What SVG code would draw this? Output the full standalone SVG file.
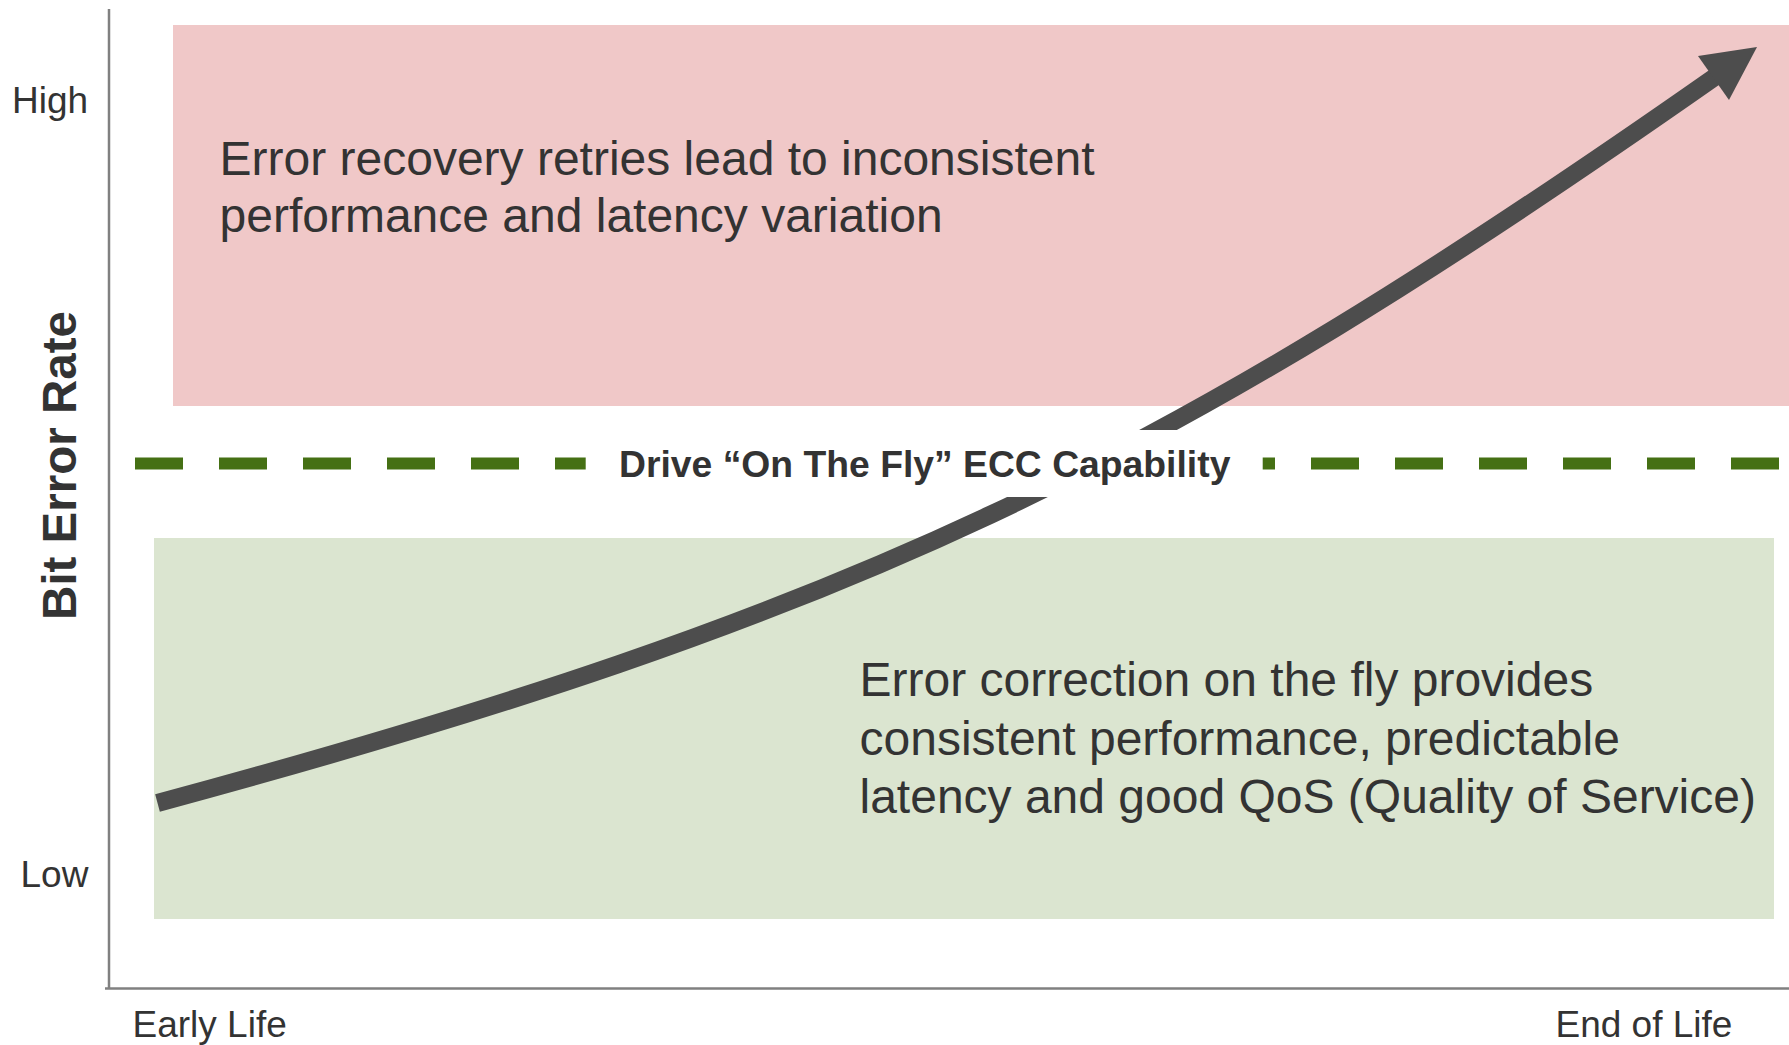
<svg xmlns="http://www.w3.org/2000/svg" width="1789" height="1045" viewBox="0 0 1789 1045">
  <style>
    .lbl { font-family: "Liberation Sans", Arial, sans-serif; fill: #333333; }
    .axis { stroke: #808080; stroke-width: 2.5; fill: none; }
  </style>
  <rect x="0" y="0" width="1789" height="1045" fill="#ffffff"/>
  <g id="zone-high">
    <rect x="173" y="25" width="1616" height="381" fill="#F0C8C8"/>
    <text class="lbl" font-size="48"><tspan x="219.5" y="175">Error recovery retries lead to inconsistent</tspan><tspan x="219.5" y="232">performance and latency variation</tspan></text>
  </g>
  <g id="zone-low">
    <rect x="154" y="538" width="1620" height="381" fill="#DBE5D0"/>
    <text class="lbl" font-size="48"><tspan x="859.5" y="696">Error correction on the fly provides</tspan><tspan x="859.5" y="754.5">consistent performance, predictable</tspan><tspan x="859.5" y="813">latency and good QoS (Quality of Service)</tspan></text>
  </g>
  <g id="axes">
    <line class="axis" x1="109" y1="9" x2="109" y2="989"/>
    <line class="axis" x1="105" y1="988.5" x2="1789" y2="988.5"/>
    <text class="lbl" font-size="37" x="12" y="112.7">High</text>
    <text class="lbl" font-size="37" x="20.5" y="886.7">Low</text>
    <text class="lbl" font-size="37" x="132.5" y="1037">Early Life</text>
    <text class="lbl" font-size="37" x="1555.5" y="1037">End of Life</text>
    <text class="lbl" font-size="47.5" font-weight="bold" text-anchor="middle" transform="translate(76,465.5) rotate(-90)">Bit Error Rate</text>
  </g>
  <g id="connectors">
    <path d="M157.5,803 C857.5,614 1162,464 1712,79 L1722,72" fill="none" stroke="#4D4D4D" stroke-width="18"/>
    <polygon points="1757,47 1698,56 1729,100" fill="#4D4D4D"/>
  </g>
  <g id="threshold">
    <line x1="135" y1="463.5" x2="1779" y2="463.5" stroke="#457014" stroke-width="12" stroke-dasharray="48 36"/>
    <rect x="585.7" y="430" width="677" height="67" fill="#ffffff"/>
    <text class="lbl" font-size="37.3" font-weight="bold" x="619" y="477.3">Drive “On The Fly” ECC Capability</text>
  </g>
</svg>
